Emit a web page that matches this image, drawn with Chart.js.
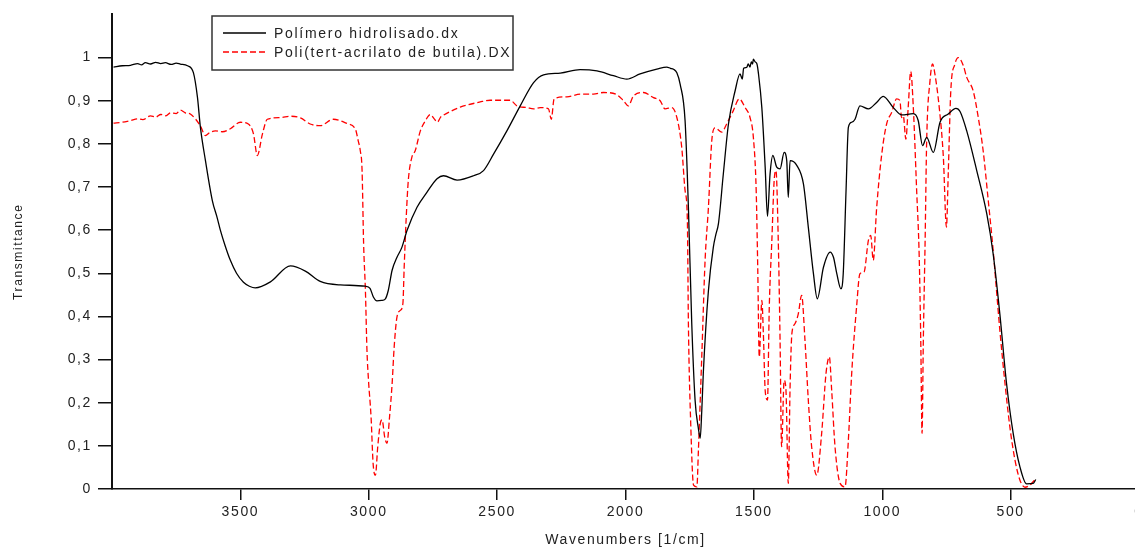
<!DOCTYPE html>
<html>
<head>
<meta charset="utf-8">
<script src="https://cdn.jsdelivr.net/npm/chart.js@4.4.1/dist/chart.umd.min.js"></script>
<style>
  html, body { margin: 0; padding: 0; background: #fff; overflow: hidden; }
  #wrap { position: relative; width: 1180px; height: 549px; }
</style>
</head>
<body>
<div id="wrap"><canvas id="c"></canvas></div>
<script>
// ---- Data ----
const seriesNames = ["Polímero hidrolisado.dx", "Poli(tert-acrilato de butila).DX"];

const wavenumbersA = [3994,3960,3928,3900,3885,3870,3850,3830,3810,3792,3770,3750,3734,3706,3683,3667,3656,3636,3609,3590,3578,3560,3539,3515,3488,3465,3442,3383,3305,3247,3189,3111,3013,2995,2982,2968,2950,2936,2924,2909,2890,2871,2851,2812,2773,2734,2709,2656,2592,2553,2514,2462,2410,2358,2319,2254,2177,2111,2047,1995,1943,1878,1839,1825,1813,1800,1787,1768,1755,1742,1729,1716,1709,1703,1697,1677,1658,1648,1638,1619,1599,1573,1554,1545,1540,1528,1522,1515,1510,1505,1502,1495,1488,1482,1469,1456,1447,1437,1426,1411,1398,1382,1372,1366,1359,1333,1307,1288,1268,1253,1229,1203,1190,1177,1161,1152,1141,1132,1119,1106,1087,1054,1022,996,957,924,879,860,843,827,801,775,743,713,697,671,632,593,568,542,516,490,464,438,412,402];
const transmittanceA = [0.978,0.981,0.982,0.986,0.983,0.988,0.985,0.989,0.986,0.988,0.984,0.987,0.985,0.981,0.965,0.907,0.84,0.761,0.668,0.628,0.60,0.565,0.53,0.50,0.479,0.470,0.466,0.48,0.517,0.505,0.481,0.473,0.470,0.465,0.445,0.436,0.437,0.44,0.46,0.507,0.537,0.56,0.599,0.653,0.688,0.719,0.726,0.716,0.726,0.738,0.776,0.830,0.888,0.942,0.96,0.964,0.972,0.969,0.958,0.950,0.962,0.973,0.978,0.975,0.973,0.965,0.938,0.854,0.653,0.384,0.206,0.14,0.118,0.18,0.268,0.46,0.56,0.59,0.615,0.73,0.846,0.923,0.962,0.95,0.975,0.977,0.985,0.978,0.99,0.985,0.996,0.99,0.985,0.962,0.884,0.746,0.632,0.73,0.773,0.746,0.742,0.78,0.761,0.676,0.761,0.75,0.707,0.607,0.499,0.441,0.514,0.549,0.537,0.499,0.464,0.499,0.692,0.838,0.85,0.857,0.888,0.881,0.896,0.910,0.884,0.867,0.870,0.854,0.796,0.815,0.780,0.85,0.869,0.882,0.875,0.83,0.738,0.638,0.545,0.406,0.245,0.129,0.052,0.012,0.013,0.022];

const wavenumbersB = [3994,3960,3928,3900,3880,3850,3830,3810,3790,3772,3750,3734,3715,3695,3656,3636,3620,3597,3570,3539,3500,3469,3449,3434,3414,3395,3344,3305,3266,3228,3189,3138,3084,3052,3041,3033,3026,3020,3013,3007,3001,2991,2983,2974,2965,2955,2948,2938,2929,2919,2909,2901,2890,2877,2867,2862,2854,2846,2832,2819,2799,2780,2760,2745,2733,2720,2710,2682,2644,2566,2527,2449,2423,2384,2358,2332,2300,2289,2278,2228,2176,2125,2086,2034,2008,1989,1969,1930,1891,1865,1846,1820,1800,1781,1768,1759,1755,1746,1735,1722,1716,1703,1690,1677,1664,1651,1625,1606,1580,1557,1534,1515,1502,1491,1485,1479,1469,1463,1456,1447,1440,1430,1421,1414,1405,1398,1392,1382,1375,1366,1359,1352,1340,1327,1314,1301,1288,1275,1255,1236,1219,1206,1197,1184,1164,1145,1132,1119,1100,1087,1071,1054,1045,1035,1022,1002,983,963,944,931,925,918,908,899,889,879,866,856,850,845,840,833,827,814,804,795,778,762,750,743,733,717,704,684,671,646,626,607,587,568,555,542,522,503,483,464,444,425,409,402];
const transmittanceB = [0.848,0.850,0.854,0.858,0.856,0.865,0.862,0.868,0.865,0.872,0.870,0.878,0.872,0.869,0.842,0.819,0.826,0.83,0.828,0.835,0.85,0.846,0.823,0.773,0.823,0.857,0.861,0.864,0.86,0.846,0.842,0.857,0.847,0.834,0.807,0.784,0.738,0.568,0.46,0.322,0.252,0.167,0.059,0.032,0.098,0.152,0.16,0.121,0.106,0.167,0.244,0.329,0.399,0.414,0.43,0.514,0.63,0.715,0.769,0.784,0.83,0.853,0.868,0.858,0.85,0.862,0.866,0.875,0.885,0.897,0.901,0.901,0.888,0.884,0.881,0.884,0.881,0.857,0.904,0.909,0.915,0.915,0.919,0.914,0.90,0.888,0.911,0.919,0.907,0.90,0.881,0.884,0.861,0.792,0.692,0.622,0.383,0.152,0.009,0.005,0.09,0.306,0.53,0.653,0.807,0.837,0.827,0.846,0.877,0.904,0.884,0.861,0.815,0.692,0.514,0.306,0.437,0.36,0.229,0.206,0.422,0.576,0.715,0.738,0.576,0.345,0.098,0.252,0.229,0.013,0.237,0.36,0.383,0.406,0.449,0.345,0.206,0.098,0.032,0.129,0.268,0.306,0.229,0.098,0.013,0.005,0.113,0.268,0.422,0.499,0.503,0.576,0.588,0.53,0.65,0.776,0.846,0.873,0.904,0.90,0.861,0.865,0.811,0.884,0.968,0.884,0.692,0.537,0.345,0.129,0.345,0.576,0.807,0.946,0.985,0.962,0.884,0.769,0.607,0.73,0.923,0.985,1.0,0.981,0.954,0.923,0.861,0.784,0.668,0.553,0.46,0.368,0.245,0.144,0.067,0.021,0.004,0.009,0.019,0.023];

const xTickStep = 500;
const yTickStep = 0.1;
const xAxisTitle = "Wavenumbers [1/cm]";
const yAxisTitle = "Transmittance";

// ---- Build chart ----
const toPoints = (xs, ys) => xs.map((x, i) => ({ x: x, y: ys[i] }));
const TEXT = '#222';
Chart.defaults.font.family = "'Liberation Sans', Arial, Helvetica, sans-serif";
Chart.defaults.color = TEXT;

const spacingPlugin = {
  id: 'spacing',
  beforeUpdate(chart) { chart.ctx.letterSpacing = '1.6px'; },
  beforeDraw(chart) { chart.ctx.letterSpacing = '1.6px'; }
};

const legendPlugin = {
  id: 'boxLegend',
  afterDraw(chart) {
    const ctx = chart.ctx;
    ctx.save();
    const x0 = 212, y0 = 16, w = 301, h = 54;
    ctx.fillStyle = '#fff';
    ctx.fillRect(x0, y0, w, h);
    ctx.strokeStyle = '#333';
    ctx.lineWidth = 1.5;
    ctx.strokeRect(x0, y0, w, h);
    const rows = [33, 52];
    chart.data.datasets.forEach((ds, i) => {
      ctx.beginPath();
      ctx.strokeStyle = ds.borderColor;
      ctx.lineWidth = ds.borderWidth;
      ctx.setLineDash(ds.borderDash || []);
      ctx.moveTo(223, rows[i]);
      ctx.lineTo(266, rows[i]);
      ctx.stroke();
      ctx.setLineDash([]);
      ctx.fillStyle = TEXT;
      ctx.font = "14px 'Liberation Sans', Arial, sans-serif";
      ctx.letterSpacing = '1.7px';
      ctx.textAlign = 'left';
      ctx.textBaseline = 'middle';
      ctx.fillText(ds.label, 274, rows[i] + 1);
    });
    ctx.restore();
  }
};

new Chart(document.getElementById('c'), {
  type: 'line',
  data: {
    datasets: [
      {
        label: seriesNames[0],
        data: toPoints(wavenumbersA, transmittanceA),
        borderColor: '#000',
        borderWidth: 1.3,
        pointRadius: 0,
        cubicInterpolationMode: 'monotone',
        fill: false
      },
      {
        label: seriesNames[1],
        data: toPoints(wavenumbersB, transmittanceB),
        borderColor: '#ff0000',
        borderWidth: 1.3,
        borderDash: [6, 3],
        pointRadius: 0,
        cubicInterpolationMode: 'monotone',
        fill: false
      }
    ]
  },
  options: {
    responsive: true,
    maintainAspectRatio: false,
    animation: false,
    layout: { padding: { left: 0, right: 41, top: 13, bottom: 0 } },
    plugins: {
      legend: { display: false },
      tooltip: { enabled: false }
    },
    scales: {
      x: {
        type: 'linear',
        min: 0,
        max: 4000,
        reverse: true,
        afterFit(scale) { scale.height = 60; },
        border: { display: true, color: '#111', width: 1.5 },
        grid: {
          drawOnChartArea: false,
          drawTicks: true,
          tickLength: 11,
          lineWidth: 1.5,
          color: (c) => (c.tick && c.tick.value >= 4000) ? 'rgba(0,0,0,0)' : '#111'
        },
        ticks: {
          stepSize: xTickStep,
          autoSkip: false,
          maxRotation: 0,
          padding: 4,
          color: TEXT,
          font: { size: 14 },
          callback: (v) => (v >= 4000 ? '' : String(v))
        },
        title: {
          display: true,
          text: xAxisTitle,
          color: TEXT,
          font: { size: 14 },
          padding: { top: 0, bottom: 0 }
        }
      },
      y: {
        type: 'linear',
        min: 0,
        max: 1.1,
        afterFit(scale) { scale.width = 112; },
        border: { display: true, color: '#111', width: 2 },
        grid: {
          drawOnChartArea: false,
          drawTicks: true,
          tickLength: 14,
          lineWidth: 1.5,
          color: (c) => (c.tick && c.tick.value > 1.05) ? 'rgba(0,0,0,0)' : '#111'
        },
        ticks: {
          stepSize: yTickStep,
          autoSkip: false,
          padding: 6,
          color: TEXT,
          font: { size: 14 },
          callback: (v) => {
            if (v > 1.05) return '';
            const r = Math.round(v * 10) / 10;
            if (r === 0) return '0';
            if (r === 1) return '1';
            return r.toFixed(1).replace('.', ',');
          }
        },
        title: {
          display: true,
          text: yAxisTitle,
          color: TEXT,
          font: { size: 12 },
          padding: { top: 11, bottom: 0 }
        }
      }
    }
  },
  plugins: [spacingPlugin, legendPlugin]
});
</script>
</body>
</html>
